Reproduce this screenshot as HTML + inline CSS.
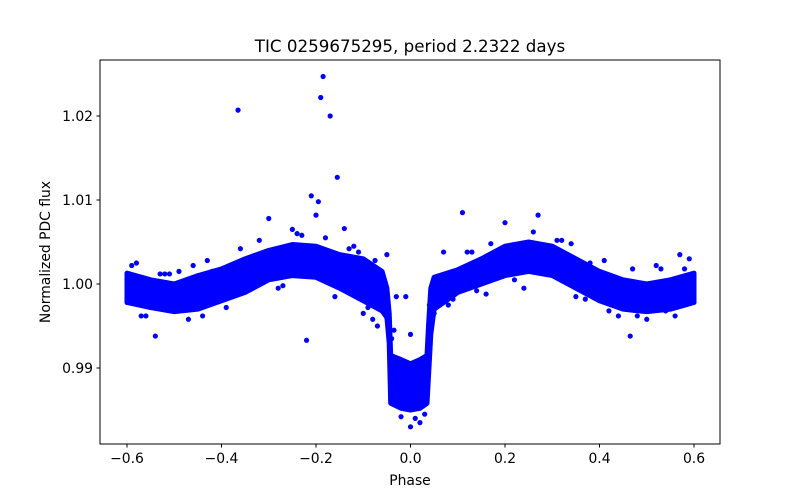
<!DOCTYPE html>
<html><head><meta charset="utf-8">
<style>
html,body{margin:0;padding:0;background:#fff;}
svg{display:block;font-family:"DejaVu Sans","Liberation Sans",sans-serif;}
</style></head>
<body>
<svg id="chart" width="800" height="500" viewBox="0 0 800 500">
<rect x="0" y="0" width="800" height="500" fill="#fff"/>
<text x="410" y="52" font-size="16.7" text-anchor="middle">TIC 0259675295, period 2.2322 days</text>
<g id="marks"></g>
<rect x="100" y="60" width="620" height="384" fill="none" stroke="#000" stroke-width="1"/>
<g id="xticks"></g>
<g id="yticks"></g>
<text x="410" y="485" font-size="13.9" text-anchor="middle">Phase</text>
<text x="50" y="252" font-size="13.9" text-anchor="middle" transform="rotate(-90 50 252)">Normalized PDC flux</text>
</svg>
<script>
// Dense band envelope (phase, upper flux, lower flux)
const bandPhase = [-0.6,-0.55,-0.5,-0.45,-0.4,-0.35,-0.3,-0.25,-0.2,-0.15,-0.1,-0.06,-0.05,-0.045,-0.042,-0.02,0,0.02,0.035,0.038,0.043,0.05,0.1,0.15,0.2,0.25,0.3,0.35,0.4,0.45,0.5,0.55,0.6];
const bandUpper = [1.0013,1.0005,1.0,1.001,1.0018,1.003,1.004,1.0047,1.0045,1.0035,1.003,1.0015,0.9995,0.9965,0.9915,0.991,0.9905,0.991,0.9915,0.995,0.9995,1.0008,1.0017,1.003,1.0045,1.005,1.0045,1.003,1.0015,1.0005,1.0,1.0005,1.0013];
const bandLower = [0.9978,0.9972,0.9967,0.997,0.998,0.999,1.0005,1.001,1.0008,0.9995,0.998,0.9968,0.996,0.993,0.9858,0.9852,0.985,0.9852,0.9858,0.989,0.994,0.997,0.999,1.0,1.001,1.0015,1.001,0.9995,0.998,0.997,0.9967,0.997,0.9978];
// Individual scattered points
const ptPhase = [-0.365,-0.185,-0.19,-0.17,-0.155,-0.21,-0.195,-0.2,-0.14,-0.3,0.11,0.2,0.27,-0.22,0.0,0.0,-0.25,-0.05,0.35,-0.58,0.57,0.59,0.465,-0.54,-0.1,-0.07,-0.42,-0.2,-0.01,0.03,-0.02,-0.24,-0.28,-0.12,-0.08,0.08,0.13,0.16,0.32,0.38,0.42,0.52,-0.47,-0.52,-0.33,0.24,0.05,-0.03,0.02,0.01,
 -0.59,-0.56,-0.53,-0.49,-0.46,-0.43,-0.39,-0.36,-0.32,-0.27,-0.23,-0.18,-0.16,-0.13,-0.11,-0.09,-0.075,0.07,0.09,0.12,0.14,0.17,0.22,0.26,0.29,0.31,0.34,0.37,0.41,0.44,0.47,0.5,0.53,0.56,0.58,-0.57,-0.51,-0.44,0.48,0.54,-0.035,-0.04,0.04,0.045];
const ptFlux  = [1.0207,1.0247,1.0222,1.0200,1.0127,1.0105,1.0098,1.0082,1.0066,1.0078,1.0085,1.0073,1.0082,0.9933,0.994,0.983,1.0065,1.0035,0.9985,1.0025,1.0035,1.003,0.9938,0.9938,0.9965,0.995,1.0015,1.0015,0.9985,0.9845,0.9842,1.006,0.9995,1.0045,0.9958,0.9975,1.0038,0.9988,1.0052,1.0025,0.9968,1.0022,0.9958,1.0012,1.0005,0.9995,0.9965,0.9985,0.9835,0.984,
 1.0022,0.9962,1.0012,1.0015,1.0022,1.0028,0.9972,1.0042,1.0052,0.9998,1.0058,1.0055,0.9985,1.0042,1.0038,0.9972,1.0028,1.0038,0.9982,1.0038,0.9992,1.0048,1.0005,1.0062,1.0018,1.0052,1.0048,0.9982,1.0028,0.9962,1.0018,0.9958,1.0018,0.9962,1.0018,0.9962,1.0012,0.9962,0.9962,0.9968,0.9945,0.9935,0.9975,0.9955];
const xTicks = [-0.6,-0.4,-0.2,0.0,0.2,0.4,0.6];
const xTickLabels = ["−0.6","−0.4","−0.2","0.0","0.2","0.4","0.6"];
const yTicks = [0.99,1.00,1.01,1.02];
const yTickLabels = ["0.99","1.00","1.01","1.02"];

const X = p => 410.5 + p*472.5;
const Y = f => 284 - (f-1)*8400;
const NS = "http://www.w3.org/2000/svg";
const marks = document.getElementById('marks');

let d = "";
bandPhase.forEach((p,i)=>{ d += (i?"L":"M")+X(p).toFixed(1)+","+Y(bandUpper[i]).toFixed(1); });
for(let i=bandPhase.length-1;i>=0;i--){ d += "L"+X(bandPhase[i]).toFixed(1)+","+Y(bandLower[i]).toFixed(1); }
d += "Z";
const band = document.createElementNS(NS,'path');
band.setAttribute('d', d);
band.setAttribute('fill','#0000ff');
band.setAttribute('stroke','#0000ff');
band.setAttribute('stroke-width','5');
band.setAttribute('stroke-linejoin','round');


marks.appendChild(band);

ptPhase.forEach((p,i)=>{
  const c = document.createElementNS(NS,'circle');
  c.setAttribute('cx', X(p));
  c.setAttribute('cy', Y(ptFlux[i]));
  c.setAttribute('r', 2.6);
  c.setAttribute('fill','#0000ff');
  
  
  marks.appendChild(c);
});

const xg = document.getElementById('xticks');
xTicks.forEach((t,i)=>{
  const l = document.createElementNS(NS,'line');
  l.setAttribute('x1',X(t)); l.setAttribute('x2',X(t));
  l.setAttribute('y1',444); l.setAttribute('y2',447.5);
  l.setAttribute('stroke','#000');
  
  
  xg.appendChild(l);
  const tx = document.createElementNS(NS,'text');
  tx.setAttribute('x',X(t)); tx.setAttribute('y',463);
  tx.setAttribute('font-size','13.9'); tx.setAttribute('text-anchor','middle');
  tx.textContent = xTickLabels[i];
  
  
  xg.appendChild(tx);
});
const yg = document.getElementById('yticks');
yTicks.forEach((t,i)=>{
  const l = document.createElementNS(NS,'line');
  l.setAttribute('x1',96.5); l.setAttribute('x2',100);
  l.setAttribute('y1',Y(t)); l.setAttribute('y2',Y(t));
  l.setAttribute('stroke','#000');
  
  
  yg.appendChild(l);
  const tx = document.createElementNS(NS,'text');
  tx.setAttribute('x',93); tx.setAttribute('y',Y(t)+5);
  tx.setAttribute('font-size','13.9'); tx.setAttribute('text-anchor','end');
  tx.textContent = yTickLabels[i];
  
  
  yg.appendChild(tx);
});
</script>
</body></html>
